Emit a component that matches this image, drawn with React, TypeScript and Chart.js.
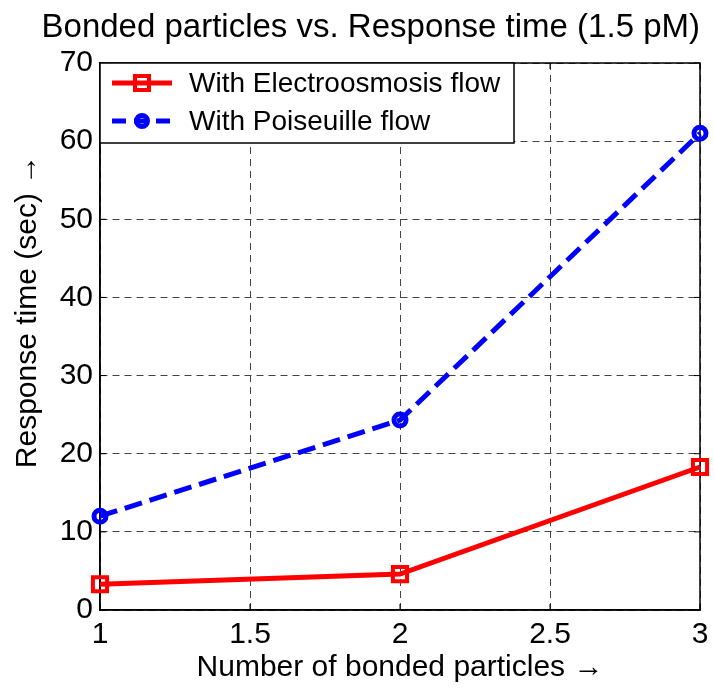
import React, { useEffect, useRef } from "react";
import { Chart, registerables } from "chart.js";

Chart.register(...registerables);

const xValues = [1, 2, 3];
const electroosmosis = [3.3, 4.6, 18.3];
const poiseuille = [12.0, 24.3, 61.0];
const seriesNames = ["With Electroosmosis flow", "With Poiseuille flow"];
const xTicks = [1, 1.5, 2, 2.5, 3];
const yTicks = [0, 10, 20, 30, 40, 50, 60, 70];

const FONT = "'Liberation Sans', Arial, sans-serif";

const framePlugin = {
  id: "frame",
  beforeDatasetsDraw(chart: any) {
    const { ctx, chartArea } = chart;
    const { left, right, top, bottom } = chartArea;
    ctx.save();
    ctx.strokeStyle = "#000";
    ctx.lineWidth = 1.5;
    ctx.setLineDash([]);
    ctx.strokeRect(left, top, right - left, bottom - top);
    const xs = chart.scales.x;
    const ys = chart.scales.y;
    const t = 6;
    ctx.lineWidth = 1;
    ctx.beginPath();
    xTicks.forEach((v) => {
      const px = xs.getPixelForValue(v);
      ctx.moveTo(px, bottom);
      ctx.lineTo(px, bottom - t);
      ctx.moveTo(px, top);
      ctx.lineTo(px, top + t);
    });
    yTicks.forEach((v) => {
      const py = ys.getPixelForValue(v);
      ctx.moveTo(left, py);
      ctx.lineTo(left + t, py);
      ctx.moveTo(right, py);
      ctx.lineTo(right - t, py);
    });
    ctx.stroke();
    ctx.restore();
  },
};

const legendPlugin = {
  id: "boxLegend",
  afterDraw(chart: any) {
    const { ctx, chartArea } = chart;
    const x0 = chartArea.left;
    const y0 = chartArea.top;
    const w = 414;
    const h = 80;
    ctx.save();
    ctx.fillStyle = "#fff";
    ctx.fillRect(x0, y0, w, h);
    ctx.strokeStyle = "#000";
    ctx.lineWidth = 1.5;
    ctx.strokeRect(x0, y0, w, h);
    const rows = [
      { y: y0 + 20, color: "#ff0000", dash: [] as number[], marker: "rect" },
      { y: y0 + 58, color: "#0000ff", dash: [14, 8], marker: "circle" },
    ];
    rows.forEach((r, i) => {
      ctx.strokeStyle = r.color;
      ctx.lineWidth = 5;
      ctx.setLineDash(r.dash);
      ctx.beginPath();
      ctx.moveTo(x0 + 12, r.y);
      ctx.lineTo(x0 + 72, r.y);
      ctx.stroke();
      ctx.setLineDash([]);
      const cx = x0 + 42;
      if (r.marker === "rect") {
        ctx.lineWidth = 4;
        ctx.strokeRect(cx - 7, r.y - 7, 14, 14);
      } else {
        ctx.lineWidth = 5;
        ctx.beginPath();
        ctx.arc(cx, r.y, 5.5, 0, Math.PI * 2);
        ctx.stroke();
      }
      ctx.fillStyle = "#000";
      ctx.font = `28px ${FONT}`;
      ctx.textBaseline = "middle";
      ctx.textAlign = "left";
      ctx.fillText(seriesNames[i], x0 + 89, r.y + 1);
    });
    ctx.restore();
  },
};

export default function App() {
  const ref = useRef<HTMLCanvasElement | null>(null);
  useEffect(() => {
    if (!ref.current) return;
    const chart = new Chart(ref.current, {
      type: "line",
      data: {
        datasets: [
          {
            label: seriesNames[0],
            data: xValues.map((x, i) => ({ x, y: electroosmosis[i] })),
            borderColor: "#ff0000",
            backgroundColor: "rgba(0,0,0,0)",
            borderWidth: 5,
            pointStyle: "rect",
            pointRadius: 10,
            pointBorderWidth: 4,
            pointBorderColor: "#ff0000",
            pointBackgroundColor: "rgba(0,0,0,0)",
            tension: 0,
            clip: false as any,
          },
          {
            label: seriesNames[1],
            data: xValues.map((x, i) => ({ x, y: poiseuille[i] })),
            borderColor: "#0000ff",
            backgroundColor: "rgba(0,0,0,0)",
            borderWidth: 5,
            borderDash: [18, 8],
            pointStyle: "circle",
            pointRadius: 6,
            pointBorderWidth: 5,
            pointBorderColor: "#0000ff",
            pointBackgroundColor: "rgba(0,0,0,0)",
            tension: 0,
            clip: false as any,
          },
        ],
      },
      options: {
        responsive: false,
        animation: false,
        layout: { padding: { left: 0, right: 0, top: 0, bottom: 0 } },
        plugins: {
          legend: { display: false },
          tooltip: { enabled: false },
          title: {
            display: true,
            text: "   Bonded particles vs. Response time (1.5 pM)",
            color: "#000",
            font: { family: FONT, size: 33, weight: "normal" },
            padding: { top: 8, bottom: 15.4 },
          },
        },
        scales: {
          x: {
            type: "linear",
            min: 1,
            max: 3,
            afterFit: (s: any) => {
              s.height = 79;
              s.paddingLeft = 0;
              s.paddingRight = 2;
            },
            afterBuildTicks: (s: any) => {
              s.ticks = xTicks.map((v) => ({ value: v }));
            },
            ticks: {
              color: "#000",
              font: { family: FONT, size: 30 },
              padding: 7,
              maxRotation: 0,
              callback: (v: any) => String(v),
            },
            grid: { color: "#444", lineWidth: 1, drawTicks: false },
            border: { display: true, color: "#000", width: 1.5, dash: [7, 5] },
            title: {
              display: true,
              text: "Number of bonded particles \u2192",
              color: "#000",
              font: { family: FONT, size: 30 },
              padding: { top: 0, bottom: 3 },
            },
          },
          y: {
            type: "linear",
            min: 0,
            max: 70,
            afterFit: (s: any) => {
              s.width = 100;
            },
            afterBuildTicks: (s: any) => {
              s.ticks = yTicks.map((v) => ({ value: v }));
            },
            ticks: {
              color: "#000",
              font: { family: FONT, size: 30 },
              padding: 7,
              callback: (v: any) => String(v),
            },
            grid: { color: "#444", lineWidth: 1, drawTicks: false },
            border: { display: true, color: "#000", width: 1.5, dash: [7, 5] },
            title: {
              display: true,
              text: "      Response time (sec) \u2192",
              color: "#000",
              font: { family: FONT, size: 30 },
              padding: { top: 10, bottom: 0 },
            },
          },
        },
      },
      plugins: [framePlugin, legendPlugin],
    } as any);
    return () => chart.destroy();
  }, []);
  return (
    <div style={{ position: "fixed", left: 0, top: 0, width: 714, height: 689, background: "#fff" }}>
      <canvas ref={ref} width={714} height={689} style={{ display: "block" }} />
    </div>
  );
}
